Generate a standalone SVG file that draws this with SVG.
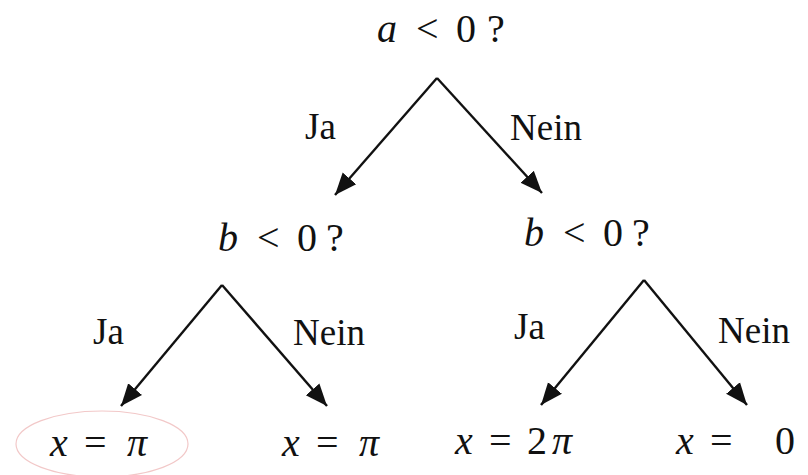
<svg xmlns="http://www.w3.org/2000/svg" width="808" height="475" viewBox="0 0 808 475">
<style>
text{font-family:'Liberation Serif','Times New Roman','DejaVu Serif',serif;fill:#111}
.m{font-size:40px}
.v{font-style:italic}
.l{font-size:37px}
.e{fill:none;stroke:#111;stroke-width:2.4}
</style>
<defs>
<marker id="ah" markerUnits="userSpaceOnUse" markerWidth="24" markerHeight="24" viewBox="0 0 24 24" refX="22" refY="12" orient="auto">
<path d="M0,3 L22,12 L0,21 Z" fill="#111"/>
</marker>
</defs>
<rect width="808" height="475" fill="#fff"/>
<ellipse cx="102" cy="444" rx="86" ry="33" fill="none" stroke="#f2c8c8" stroke-width="1.2"/>
<g id="connectors">
<line class="e" x1="437" y1="78" x2="335" y2="195" marker-end="url(#ah)"/>
<line class="e" x1="437" y1="78" x2="542" y2="193" marker-end="url(#ah)"/>
<line class="e" x1="222" y1="285" x2="121" y2="406" marker-end="url(#ah)"/>
<line class="e" x1="222" y1="285" x2="327" y2="406" marker-end="url(#ah)"/>
<line class="e" x1="644" y1="280" x2="541" y2="405" marker-end="url(#ah)"/>
<line class="e" x1="644" y1="280" x2="747" y2="405" marker-end="url(#ah)"/>
<text class="l" x="305" y="139">Ja</text>
<text class="l" x="510" y="140">Nein</text>
<text class="l" x="93" y="344">Ja</text>
<text class="l" x="293" y="345">Nein</text>
<text class="l" x="514" y="339">Ja</text>
<text class="l" x="718" y="343">Nein</text>
</g>
<g id="n-root"><text class="m" x="377" y="42"><tspan class="v">a</tspan><tspan x="416">&lt;</tspan><tspan x="456">0</tspan><tspan x="487">?</tspan></text></g>
<g id="n-b1"><text class="m" x="218" y="251"><tspan class="v">b</tspan><tspan x="257">&lt;</tspan><tspan x="297">0</tspan><tspan x="326">?</tspan></text></g>
<g id="n-b2"><text class="m" x="524" y="246"><tspan class="v">b</tspan><tspan x="563">&lt;</tspan><tspan x="603">0</tspan><tspan x="632">?</tspan></text></g>
<g id="n-l1"><text class="m" x="50" y="456"><tspan class="v">x</tspan><tspan x="84">=</tspan><tspan class="v" x="127">π</tspan></text></g>
<g id="n-l2"><text class="m" x="282" y="456"><tspan class="v">x</tspan><tspan x="316">=</tspan><tspan class="v" x="359">π</tspan></text></g>
<g id="n-l3"><text class="m" x="455" y="454"><tspan class="v">x</tspan><tspan x="489">=</tspan><tspan x="527">2</tspan><tspan class="v" x="552">π</tspan></text></g>
<g id="n-l4"><text class="m" x="676" y="454"><tspan class="v">x</tspan><tspan x="710">=</tspan><tspan x="775">0</tspan></text></g>
</svg>
